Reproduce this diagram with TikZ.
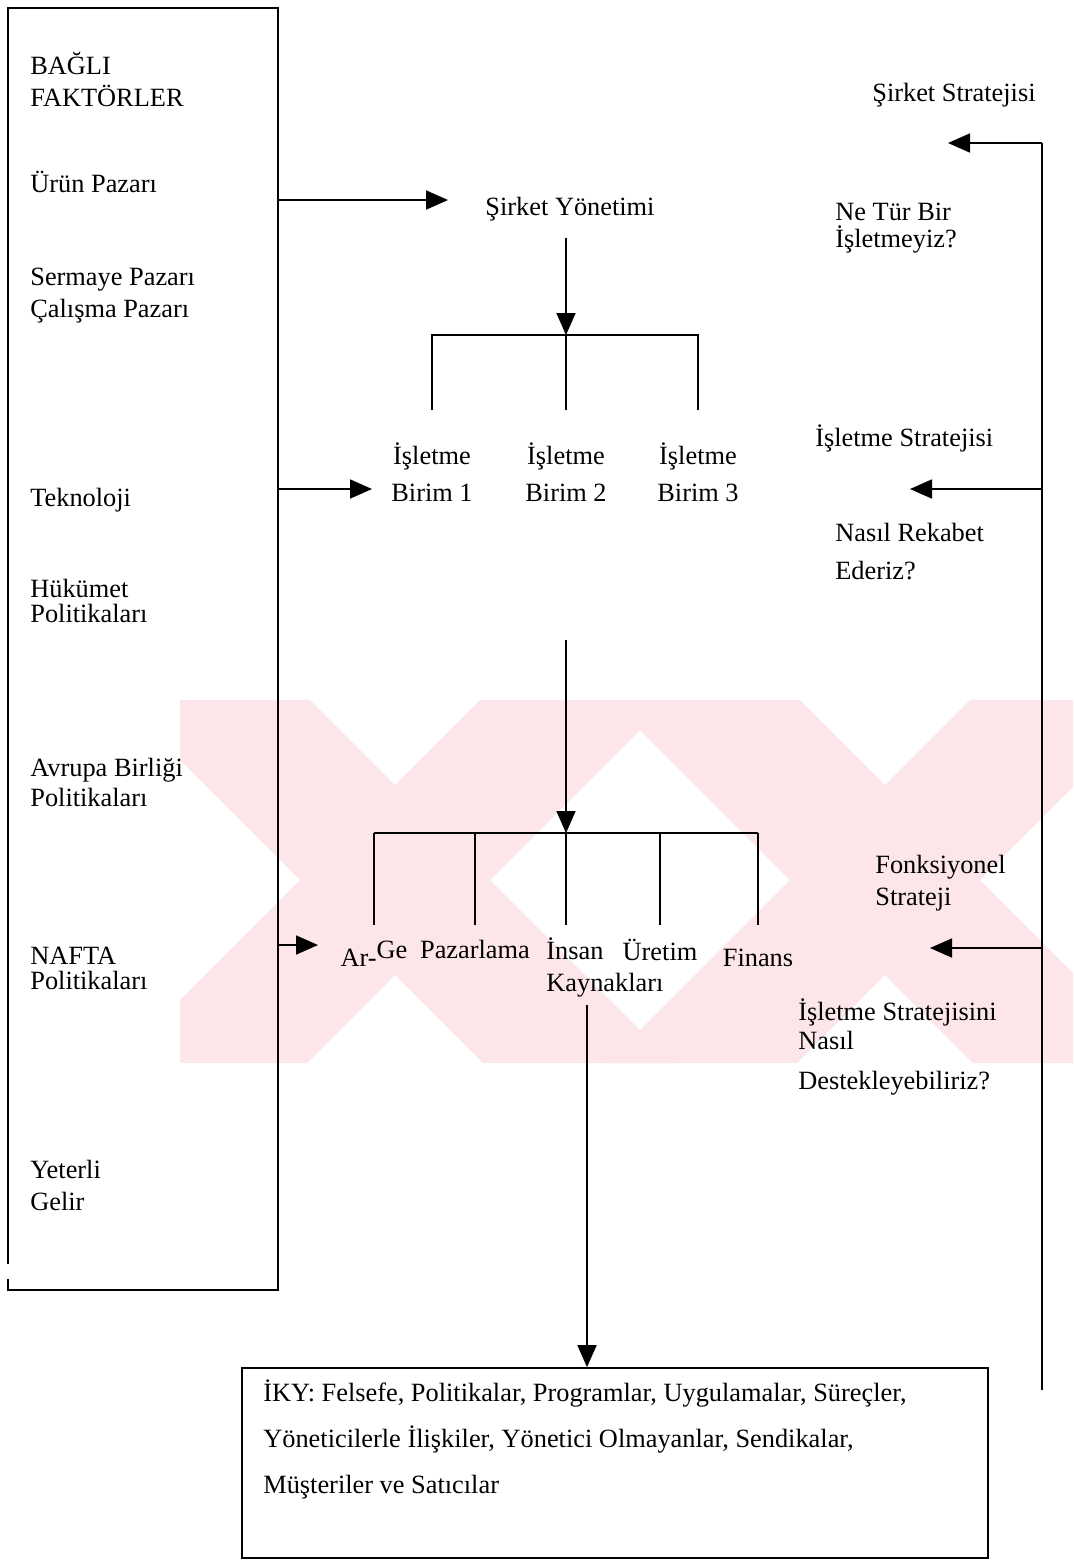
\documentclass[tikz,border=0pt]{standalone}
\usepackage{fontspec}
\setmainfont{Liberation Serif}
\usepackage{xcolor}
\usetikzlibrary{arrows.meta}
\tikzset{every picture/.append style={font=\fontsize{15}{18}\selectfont}}
\definecolor{wmpink}{HTML}{FCE6E9}
\tikzset{
  txt/.style={inner sep=0pt,align=left,anchor=north west},
  word/.style={inner sep=0pt,anchor=base},
  ln/.style={line width=1pt},
  arr/.style={ln,-{Triangle[length=0.44cm,width=0.38cm]}},
  frame/.style={draw,line width=1pt,inner sep=0pt}
}

\begin{document}
\begin{tikzpicture}[x=0.02cm,y=-0.02cm]
  \useasboundingbox (0,0) rectangle (1073,1560);

  % watermark
  \begin{scope}
    \clip (180,700) rectangle (1073,1063);
    \fill[wmpink] (120,700) -- (310,700) -- (673,1063) -- (483,1063) -- cycle;
    \fill[wmpink] (480,700) -- (670,700) -- (307,1063) -- (117,1063) -- cycle;
    \fill[wmpink] (610,700) -- (800,700) -- (1163,1063) -- (973,1063) -- cycle;
    \fill[wmpink] (970,700) -- (1160,700) -- (797,1063) -- (607,1063) -- cycle;
  \end{scope}

  % left frame
  \node[frame,minimum width=5.4cm,minimum height=25.64cm] (faktor) at (143,649) {};
  \draw[white,line width=2pt] ([yshift=0.24cm]faktor.south west) -- ([yshift=0.54cm]faktor.south west);

  \node[txt] (bagli) at (30,52) {\strut BAĞLI\\FAKTÖRLER};
  \node[txt] (urun) at (30,170) {\strut Ürün Pazarı};
  \node[txt] (sermaye) at (30,263) {\strut Sermaye Pazarı\\Çalışma Pazarı};
  \node[txt] (tekno) at (30,484) {\strut Teknoloji};
  \node[txt] (hukumet) at (30,575) {\strut Hükümet\\[-3.8pt]Politikaları};
  \node[txt] (avrupa) at (30,754) {\strut Avrupa Birliği\\[-1pt]Politikaları};
  \node[txt] (nafta) at (30,942) {\strut NAFTA\\[-3.8pt]Politikaları};
  \node[txt] (yeterli) at (30,1156) {\strut Yeterli\\Gelir};

  % middle
  \node[txt,anchor=north,align=center] (sy) at (570,193) {\strut Şirket Yönetimi};
  \node[txt,anchor=north,align=center] (birim1) at (432,442) {\strut İşletme\\[3pt]Birim 1};
  \node[txt,anchor=north,align=center] (birim2) at (566,442) {\strut İşletme\\[3pt]Birim 2};
  \node[txt,anchor=north,align=center] (birim3) at (698,442) {\strut İşletme\\[3pt]Birim 3};

  \node[word] (arge) at (374,966) {Ar-\raisebox{0.16cm}{Ge}};
  \node[word] (pazar) at (475,958) {Pazarlama};
  \node[txt] (insan) at (546,937) {\strut İnsan\\Kaynakları};
  \node[word] (uretim) at (660,960) {Üretim};
  \node[word] (finans) at (758,966) {Finans};

  \node[frame,minimum width=14.92cm,minimum height=3.8cm] (iky) at (615,1463) {};
  \node[txt,font=\fontsize{15}{26.2}\selectfont] (ikytext) at (263,1369)
    {\strut İKY: Felsefe, Politikalar, Programlar, Uygulamalar, Süreçler,\\
     Yöneticilerle İlişkiler, Yönetici Olmayanlar, Sendikalar,\\
     Müşteriler ve Satıcılar};

  % right
  \node[txt] (sstrat) at (872,79) {\strut Şirket Stratejisi};
  \node[txt] (netur) at (835,198) {\strut Ne Tür Bir\\[-2.6pt]İşletmeyiz?};
  \node[txt] (istrat) at (815,424) {\strut İşletme Stratejisi};
  \node[txt] (nasil) at (835,519) {\strut Nasıl Rekabet\\[3.6pt]Ederiz?};
  \node[txt] (fonk) at (875,851) {\strut Fonksiyonel\\Strateji};
  \node[txt] (destek) at (798,998) {\strut İşletme Stratejisini\\[-1.5pt]Nasıl\\[4.7pt]Destekleyebiliriz?};

  \coordinate (j1) at (566,335);
  \coordinate (j2) at (566,833);
  \coordinate (s2) at (566,640);
  \coordinate (s3) at (587,1005);
  \coordinate (t1) at (448,200);
  \coordinate (t2) at (372,489);
  \coordinate (t3) at (318,945);
  \coordinate (rtop) at (1042,143);
  \coordinate (rbot) at (1042,1390);
  \coordinate (r1) at (948,143);
  \coordinate (r2) at (910,489);
  \coordinate (r3) at (930,948);

  % connectors
  \draw[arr] (faktor.east |- t1) -- (t1);
  \draw[arr] (faktor.east |- t2) -- (t2);
  \draw[arr] (faktor.east |- t3) -- (t3);

  \draw[arr,shorten <=0.25cm] (sy.south -| j1) -- (j1);
  \draw[ln] ([yshift=0.64cm]birim1.north) |- (j1) -| ([yshift=0.64cm]birim3.north);
  \draw[ln] (j1) -- ([yshift=0.64cm]birim2.north);

  \draw[arr] (s2) -- (j2);
  \draw[ln] (arge.north |- j2) -- (finans.north |- j2);
  \foreach \n in {arge,pazar,uretim,finans}
    \draw[ln] (\n.north |- j2) -- ++(0,92);
  \draw[ln] (j2) -- ++(0,92);

  \draw[arr] (s3) -- (s3 |- iky.north);

  \draw[ln] (rbot) -- (rtop);
  \draw[arr] (rtop) -- (r1);
  \draw[arr] (rtop |- r2) -- (r2);
  \draw[arr] (rtop |- r3) -- (r3);
\end{tikzpicture}
\end{document}
